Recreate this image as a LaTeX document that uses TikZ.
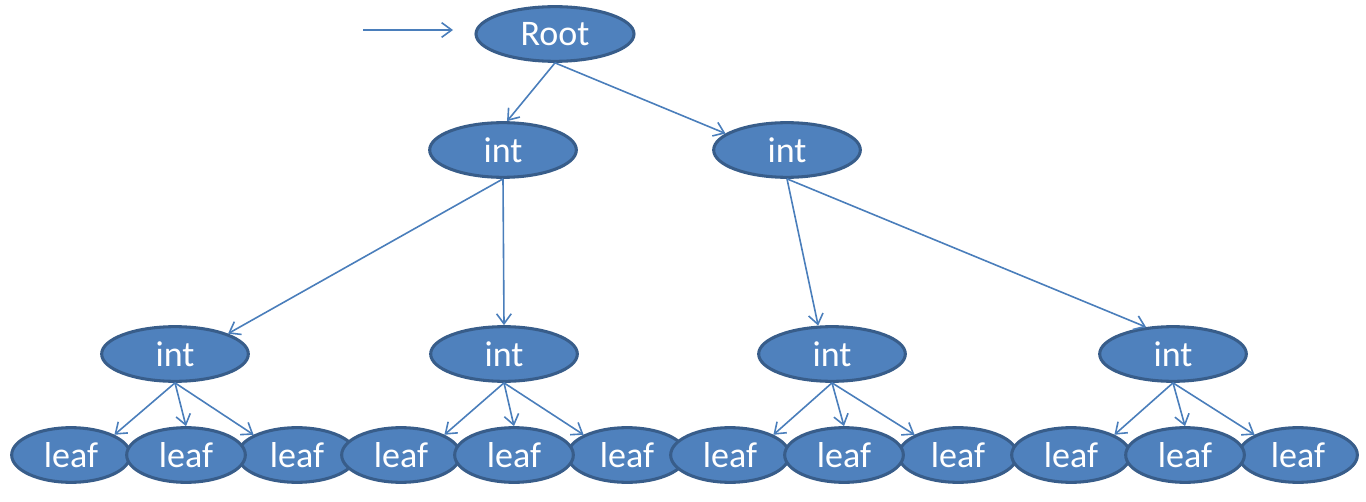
\documentclass[tikz,border=0pt]{standalone}
\usepackage{fontspec}
\setmainfont{Carlito}
\usetikzlibrary{shapes.geometric,arrows.meta}
\definecolor{nodefill}{HTML}{4F81BD}
\definecolor{nodeline}{HTML}{385D8A}
\definecolor{linkcol}{HTML}{4A7EBB}

\begin{document}
\begin{tikzpicture}[
  x=0.75pt, y=-0.75pt,
  blob/.style={ellipse, draw=nodeline, fill=nodefill, line width=2.3pt,
    text=white, inner sep=0pt, font=\fontsize{27}{30}\selectfont},
  rootnd/.style={blob, minimum width=118.5pt, minimum height=41pt},
  intnd/.style={blob, minimum width=110pt, minimum height=41pt},
  leafnd/.style={blob, minimum width=89pt, minimum height=41pt},
  lnk/.style={linkcol, line width=1.2pt, -{Straight Barb[length=7.5pt,width=11pt]}},
]
\useasboundingbox (0,0) rectangle (1366,502);

% upper levels
\node [rootnd] (root) at (555,34) {Root};
\node [intnd] (a) at (503,150) {int};
\node [intnd] (b) at (787,150) {int};
\node [intnd] (a1) at (175,354) {int};
\node [intnd] (a2) at (504,354) {int};
\node [intnd] (b1) at (832,354) {int};
\node [intnd] (b2) at (1173,354) {int};

% leaves
\node [leafnd] (l1) at (71,455) {leaf};
\node [leafnd] (l3) at (297,455) {leaf};
\node [leafnd] (l2) at (186,455) {leaf};
\node [leafnd] (l4) at (401,455) {leaf};
\node [leafnd] (l6) at (627,455) {leaf};
\node [leafnd] (l5) at (514,455) {leaf};
\node [leafnd] (l7) at (730,455) {leaf};
\node [leafnd] (l9) at (958,455) {leaf};
\node [leafnd] (l8) at (844,455) {leaf};
\node [leafnd] (l10) at (1071,455) {leaf};
\node [leafnd] (l12) at (1298,455) {leaf};
\node [leafnd] (l11) at (1185,455) {leaf};

% entry arrow
\coordinate (in) at (363,30);
\coordinate (inend) at (453,30);
\draw [lnk] (in) -- (inend);

% tree links
\draw [lnk] (root.south) -- (a.82);
\draw [lnk] (root.south) -- (b.165);
\draw [lnk] (a.south) -- (a1.21);
\draw [lnk] (a.south) -- (a2.north);
\draw [lnk] (b.south) -- (b1.116);
\draw [lnk] (b.south) -- (b2.135);

\draw [lnk] (a1.south) -- (l1.25);
\draw [lnk] (a1.south) -- (l2.north);
\draw [lnk] (a1.south) -- (l3.155);
\draw [lnk] (a2.south) -- (l4.25);
\draw [lnk] (a2.south) -- (l5.north);
\draw [lnk] (a2.south) -- (l6.155);
\draw [lnk] (b1.south) -- (l7.25);
\draw [lnk] (b1.south) -- (l8.north);
\draw [lnk] (b1.south) -- (l9.155);
\draw [lnk] (b2.south) -- (l10.25);
\draw [lnk] (b2.south) -- (l11.north);
\draw [lnk] (b2.south) -- (l12.155);
\end{tikzpicture}
\end{document}
